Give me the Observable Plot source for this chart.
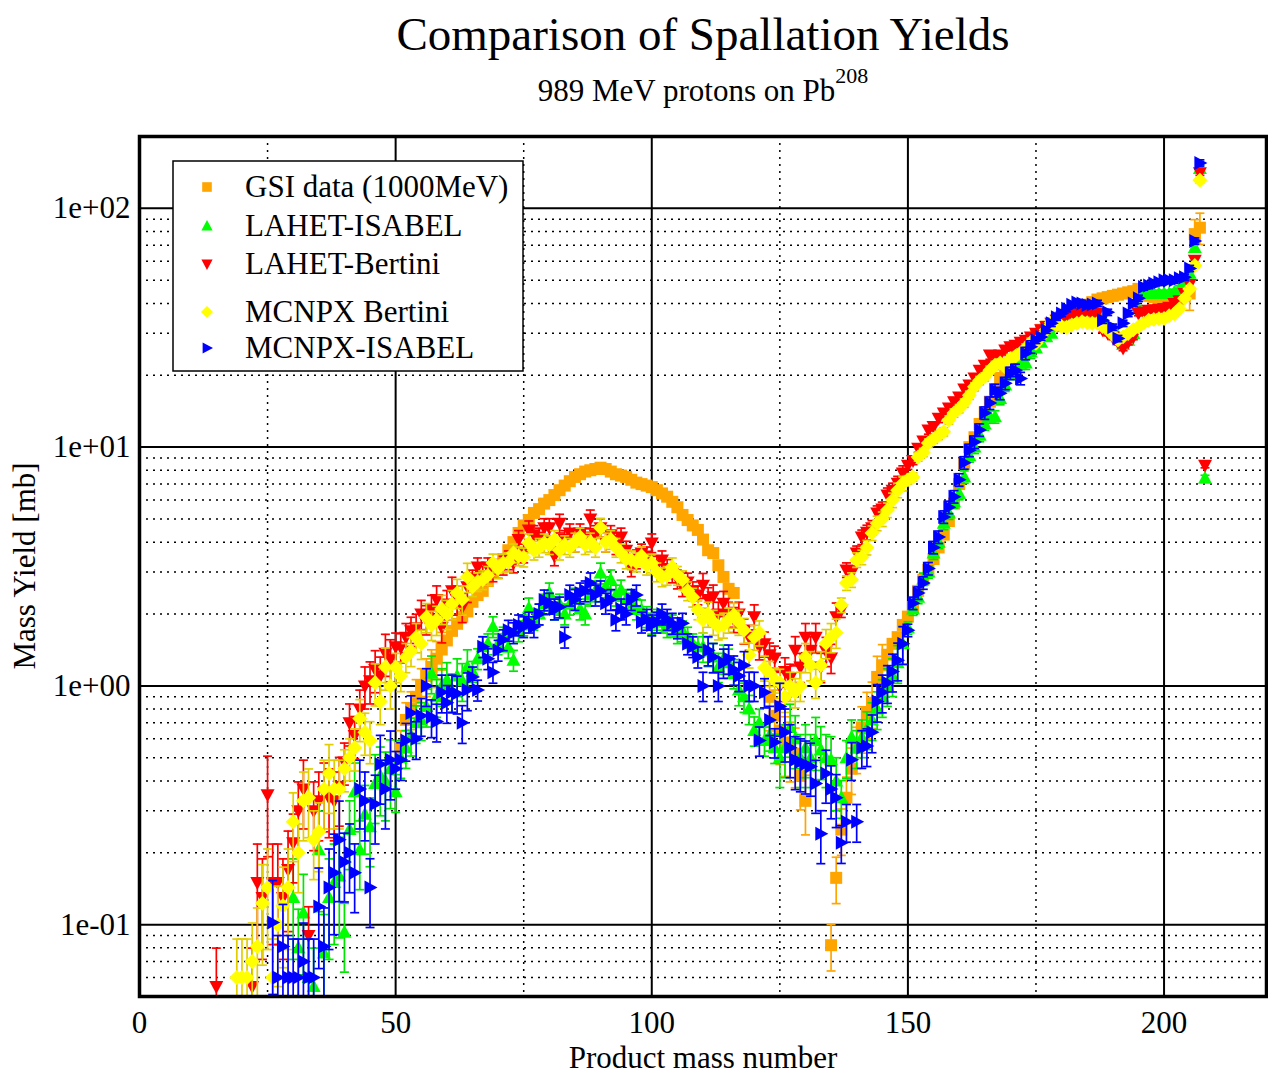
<!DOCTYPE html>
<html><head><meta charset="utf-8">
<script src="https://cdn.jsdelivr.net/npm/d3@7"></script>
<script src="https://cdn.jsdelivr.net/npm/@observablehq/plot@0.6"></script>
<style>body{margin:0;background:#fff}svg{display:block}</style>
</head><body><div id="chart"></div>
<script>
// ---------- axis ticks ----------
const decades = [0.1, 1, 10, 100];
const yTickLabels = ["1e-01", "1e+00", "1e+01", "1e+02"];
const xTicks = [0, 50, 100, 150, 200];
const majorX = [50, 100, 150, 200];
const minorX = [25, 75, 125, 175];
const minorMult = [2, 3, 4, 5, 6, 7, 8, 9];
const minorBase = [0.01, 0.1, 1, 10, 100];

// ---------- series names & colours ----------
const seriesNames = ["GSI data (1000MeV)", "LAHET-ISABEL", "LAHET-Bertini", "MCNPX Bertini", "MCNPX-ISABEL"];
const seriesColors = ["#ffa500", "#00ff00", "#ff0000", "#ffff00", "#0000ff"];
const barColors = ["#ffa500", "#00e600", "#ff0000", "#e2ce00", "#0000ff"];

// ---------- GSI data (orange squares), three segments ----------
const gsiFissionStart = 51;
const gsiFission = [0.55,0.72,0.80,0.90,1.00,1.10,1.20,1.30,1.42,1.55,
  1.70,1.82,1.95,2.05,2.25,2.40,2.50,2.75,2.97,3.20,
  3.40,3.70,4.00,4.37,4.70,4.95,5.30,5.50,5.80,6.00,
  6.30,6.60,6.90,7.20,7.50,7.70,7.90,8.00,8.10,8.20,
  8.10,7.90,7.70,7.60,7.50,7.30,7.10,7.00,6.90,6.80,
  6.60,6.40,6.20,5.90,5.60,5.20,4.95,4.70,4.50,4.10,
  3.70,3.60,3.20,2.86,2.55,2.45];
const gsiDipStart = 123;
const gsiDip = [0.90,0.75,0.65,0.58,0.55,0.52,0.42,0.33];
const gsiResidueStart = 135;
const gsiResidue = [0.082,0.157,0.25,0.34,0.45,0.55,0.67,0.77,0.85,1.09,
  1.22,1.35,1.50,1.60,1.80,1.95,2.14,2.50,2.78,3.06,
  3.40,3.80,4.30,4.90,5.80,7.00,8.50,10.0,11.0,12.5,
  14.0,15.5,17.5,19.5,21.0,22.0,23.5,25.0,26.5,28.0,
  29.5,31.0,32.0,33.0,34.0,35.0,36.0,37.0,37.8,38.5,
  39.5,40.5,41.5,42.0,42.5,43.0,43.5,44.0,44.5,45.0,
  46.0,44.0,43.0,42.5,42.0,42.0,42.0,42.0,42.0,43.0,
  44.0,78.0,83.0];

// ---------- LAHET-ISABEL (green) ----------
const lahetIsabelStart = 30;
const lahetIsabel = [0.13,0.08,0.112,0.06,0.055,0.206,0.076,0.13,0.15,0.16,
  0.093,0.25,0.36,0.206,0.29,0.257,0.39,0.42,0.40,0.45,
  0.36,0.50,0.55,0.62,0.70,0.72,0.82,1.13,0.90,1.00,
  1.06,0.95,1.10,1.05,1.20,1.15,1.30,1.46,1.50,1.77,
  1.50,1.60,1.45,1.28,1.70,1.80,2.12,1.90,2.00,2.20,
  2.45,2.10,2.20,2.00,2.20,2.33,2.10,2.00,2.40,2.50,
  2.97,2.60,2.78,2.40,2.52,2.30,2.22,2.10,2.08,1.95,
  1.83,1.90,1.85,1.77,1.80,1.67,1.70,1.60,1.50,1.46,
  1.46,1.40,1.32,1.20,1.30,1.25,1.13,0.96,0.90,0.80,
  0.65,0.70,0.59,0.62,0.55,0.50,0.55,0.67,0.60,0.50,
  0.55,0.50,0.59,0.54,0.50,0.49,0.40,0.34,0.50,0.61,
  0.55,0.61,0.66,0.72,0.80,0.90,1.00,1.10,1.25,1.50,
  1.75,2.10,2.35,2.80,3.00,3.60,4.00,4.80,5.30,5.90,
  6.40,7.50,9.20,10.0,11.2,12.5,13.4,13.4,16.0,18.2,
  20.4,21.5,22.5,22.5,25.0,26.0,27.5,29.0,30.0,32.0,
  34.0,36.3,36.5,37.0,37.2,37.3,36.5,35.0,33.5,32.0,
  30.9,29.0,27.0,28.0,29.9,38.0,44.0,44.0,44.0,44.0,
  44.0,44.0,44.5,46.0,48.5,53.5,68.5,147,7.4];

// ---------- LAHET-Bertini (red) ----------
const lahetBertiniStart = 15;
const lahetBertini = [0.055,null,null,null,null,null,null,
  0.055,0.15,0.13,0.35,0.15,0.15,0.13,0.17,
  0.22,0.30,0.37,0.09,0.30,0.33,0.36,0.34,0.33,0.38,
  0.48,0.70,0.62,0.80,1.00,1.05,1.17,1.10,1.37,1.30,
  1.46,1.45,1.60,1.70,1.75,2.00,1.90,2.10,2.30,1.76,
  2.20,2.50,2.30,2.14,2.60,2.80,3.15,2.90,3.15,3.00,
  3.10,3.20,3.37,3.27,4.10,3.60,4.50,4.30,4.20,4.60,
  4.60,3.50,4.80,4.10,4.37,4.00,4.37,4.20,5.00,4.30,
  4.60,4.00,4.30,3.90,4.20,3.70,3.15,3.40,3.60,3.50,
  3.97,3.20,3.37,3.10,2.97,2.80,2.60,2.72,2.50,2.40,
  2.64,2.30,2.36,2.00,2.22,2.00,1.90,2.00,1.70,1.60,
  1.95,1.46,1.50,1.35,1.31,1.00,1.15,1.08,1.41,1.20,
  1.60,1.41,1.60,1.20,1.40,1.31,1.95,2.08,3.06,2.97,
  3.60,4.20,4.40,4.60,5.30,5.50,6.30,6.60,7.05,7.80,
  8.40,8.80,9.90,10.6,11.8,12.2,13.2,13.9,14.6,15.5,
  16.2,17.5,18.2,19.5,21.0,22.0,24.3,24.0,24.3,25.5,
  26.3,26.7,27.5,28.0,28.9,30.0,31.0,32.0,33.0,34.0,
  35.0,35.7,36.0,36.2,36.5,36.7,36.5,36.4,31.0,30.0,
  28.9,27.5,26.0,27.5,28.9,36.4,36.8,37.4,37.6,37.8,
  38.1,38.5,40.0,41.0,44.0,48.0,60.6,141,8.4];

// ---------- MCNPX Bertini (yellow) ----------
const mcnpxBertiniStart = 19;
const mcnpxBertini = [0.06,0.06,0.06,0.07,0.081,0.123,0.143,0.06,0.10,0.12,
  0.143,0.27,0.20,0.33,0.34,0.227,0.245,0.37,0.43,0.37,
  0.37,0.45,0.50,0.55,0.73,0.64,0.59,1.03,0.86,1.20,
  1.00,1.20,1.10,1.32,1.40,1.60,1.50,1.94,1.80,1.89,
  2.10,2.00,2.20,2.45,2.30,2.86,2.60,2.73,2.78,2.90,
  3.27,3.10,3.27,3.30,3.60,3.50,3.46,3.97,3.70,3.80,
  3.97,3.90,4.10,3.70,3.90,3.80,4.00,4.20,3.90,4.00,
  3.80,4.60,4.00,4.10,3.80,3.60,3.40,3.37,3.30,3.50,
  3.20,3.27,3.00,2.86,2.90,3.15,2.90,2.78,2.50,2.35,
  2.08,1.89,2.00,1.85,1.77,1.80,1.89,1.98,1.85,1.71,
  1.35,1.60,1.67,1.19,1.13,1.06,1.03,0.90,1.00,0.94,
  1.00,1.32,1.22,1.03,1.22,1.51,1.60,1.67,2.18,2.70,
  2.78,3.37,3.46,3.80,4.37,4.80,5.00,5.45,6.00,6.60,
  7.05,7.30,7.50,9.10,9.50,10.4,10.8,11.2,11.6,13.0,
  13.9,14.5,15.3,16.5,17.9,19.0,19.7,21.0,22.0,22.5,
  21.6,23.5,24.0,24.8,26.0,27.5,27.2,29.0,31.0,33.2,
  32.5,32.0,31.8,32.5,33.0,33.5,33.2,33.0,33.0,32.0,
  31.0,29.5,28.1,29.0,29.9,31.0,31.9,33.0,34.0,34.2,
  34.5,34.6,35.5,36.2,38.0,42.0,46.0,57.6,131];

// ---------- MCNPX-ISABEL (blue) ----------
const mcnpxIsabelStart = 26;
const mcnpxIsabel = [0.102,0.06,0.081,0.06,0.06,0.06,0.07,0.06,0.06,0.119,
  0.081,0.143,0.165,0.227,0.183,0.20,0.165,0.37,0.33,0.143,
  0.32,0.47,0.37,0.49,0.45,0.49,0.59,0.77,0.60,0.75,
  1.00,0.74,0.71,0.94,0.85,0.94,0.93,0.70,0.96,1.09,
  0.96,1.46,1.30,1.14,1.41,1.56,1.71,1.67,1.80,1.77,
  1.85,1.77,2.00,2.29,2.22,2.10,2.14,1.60,2.40,2.30,
  2.45,2.50,2.70,2.40,2.50,2.22,2.30,1.89,2.10,2.00,
  2.30,2.40,1.85,1.90,1.80,1.85,2.00,1.90,1.83,1.75,
  1.83,1.50,1.46,1.32,1.00,1.41,1.32,1.00,1.25,1.30,
  1.17,1.10,1.22,1.00,1.00,0.59,0.94,0.72,0.58,0.82,
  0.64,0.55,0.49,0.48,0.47,0.46,0.39,0.24,0.43,0.37,
  0.34,0.22,0.27,0.49,0.27,0.55,0.56,0.64,0.86,0.94,
  1.03,1.15,1.28,1.50,1.71,2.22,2.45,2.70,3.10,3.80,
  4.20,5.10,5.60,6.20,7.30,8.60,9.70,10.5,11.8,13.9,
  15.3,17.3,16.8,18.5,20.4,21.0,19.4,24.7,26.3,28.0,
  28.9,30.9,33.0,35.0,36.3,38.0,39.5,40.3,40.0,39.4,
  39.6,40.0,34.0,36.7,31.8,28.5,33.0,36.3,40.0,42.0,
  46.8,47.5,48.5,49.0,50.0,50.0,50.0,51.0,51.5,56.0,
  73.0,155];

// ---------- error bar half-widths (percent), by mass-number band ----------
const simErrEdges = [30, 40, 50, 65, 110, 125, 137, 150, 175, 210];
const bertiniErrPct = [45, 32, 20, 14, 9, 12, 14, 7, 4, 2.5];
const isabelErrPct = [50, 45, 32, 18, 10, 14, 25, 18, 6, 3];
const gsiErrEdges = [60, 117, 131, 146, 205, 210];
const gsiErrPct = [18, 3, 28, 22, 3, 15];

// ---------- helpers ----------
function band(A, edges) { const i = edges.findIndex(e => A < e); return i < 0 ? edges.length - 1 : i; }
function rows(start, values, edges, pct) {
  return values.map((v, i) => ({A: start + i, y: v}))
    .filter(d => d.y != null)
    .map(d => { const p = pct[band(d.A, edges)] / 100; return {...d, lo: d.y * (1 - p), hi: d.y * (1 + p)}; });
}

const symSquare = {draw(c) { c.moveTo(-6, -6); c.lineTo(6, -6); c.lineTo(6, 6); c.lineTo(-6, 6); c.closePath(); }};
const symUp = {draw(c) { c.moveTo(0, -7.5); c.lineTo(7, 5.5); c.lineTo(-7, 5.5); c.closePath(); }};
const symDown = {draw(c) { c.moveTo(0, 7.5); c.lineTo(7, -5.5); c.lineTo(-7, -5.5); c.closePath(); }};
const symRight = {draw(c) { c.moveTo(7.5, 0); c.lineTo(-5.5, -7); c.lineTo(-5.5, 7); c.closePath(); }};
const symDiamond = {draw(c) { c.moveTo(0, -7.5); c.lineTo(7.5, 0); c.lineTo(0, 7.5); c.lineTo(-7.5, 0); c.closePath(); }};
const symCap = {draw(c) { c.moveTo(-4.5, 0); c.lineTo(4.5, 0); }};

const gsiRows = [
  ...rows(gsiFissionStart, gsiFission, gsiErrEdges, gsiErrPct),
  ...rows(gsiDipStart, gsiDip, gsiErrEdges, gsiErrPct),
  ...rows(gsiResidueStart, gsiResidue, gsiErrEdges, gsiErrPct)
];

const series = [
  {rows: gsiRows, sym: symSquare},
  {rows: rows(lahetIsabelStart, lahetIsabel, simErrEdges, isabelErrPct), sym: symUp},
  {rows: rows(lahetBertiniStart, lahetBertini, simErrEdges, bertiniErrPct), sym: symDown},
  {rows: rows(mcnpxBertiniStart, mcnpxBertini, simErrEdges, bertiniErrPct), sym: symDiamond},
  {rows: rows(mcnpxIsabelStart, mcnpxIsabel, simErrEdges, isabelErrPct), sym: symRight}
];

const minorY = minorBase.flatMap(b => minorMult.map(m => +(b * m).toPrecision(3))).filter(v => v > 0.05 && v < 200);

const dataMarks = series.flatMap((s, k) => [
  Plot.ruleX(s.rows, {x: "A", y1: "lo", y2: "hi", stroke: barColors[k], strokeWidth: 1.7, clip: true}),
  Plot.dot(s.rows, {x: "A", y: "lo", symbol: symCap, fill: "none", stroke: barColors[k], strokeWidth: 1.7, clip: true}),
  Plot.dot(s.rows, {x: "A", y: "hi", symbol: symCap, fill: "none", stroke: barColors[k], strokeWidth: 1.7, clip: true}),
  Plot.dot(s.rows, {x: "A", y: "y", symbol: s.sym, fill: seriesColors[k], stroke: "none", clip: true})
]);

const plot = Plot.plot({
  width: 1268,
  height: 1076,
  marginTop: 136,
  marginBottom: 80,
  marginLeft: 139,
  marginRight: 2,
  style: {fontFamily: "'Liberation Serif', 'Times New Roman', serif", fontSize: "31px", background: "#fff", color: "#000"},
  x: {domain: [0, 220], ticks: xTicks, tickSize: 0, tickPadding: 14, label: null},
  y: {type: "log", domain: [0.05, 200], ticks: decades, tickFormat: d => yTickLabels[decades.indexOf(d)], tickSize: 0, tickPadding: 9, label: null},
  marks: [
    Plot.ruleY(minorY, {stroke: "#000", strokeWidth: 1.5, strokeDasharray: "2,5"}),
    Plot.ruleX(minorX, {stroke: "#000", strokeWidth: 1.5, strokeDasharray: "2,5"}),
    Plot.ruleY(decades, {stroke: "#000", strokeWidth: 2}),
    Plot.ruleX(majorX, {stroke: "#000", strokeWidth: 2}),
    ...dataMarks,
    Plot.frame({stroke: "#000", strokeWidth: 3.5})
  ]
});

document.getElementById("chart").appendChild(plot);
const svg = d3.select(plot);

// titles and axis labels
svg.append("text").attr("x", 703).attr("y", 50).attr("text-anchor", "middle")
  .attr("font-size", 47).attr("fill", "#000").text("Comparison of Spallation Yields");
const sub = svg.append("text").attr("x", 703).attr("y", 101).attr("text-anchor", "middle")
  .attr("font-size", 31).attr("fill", "#000");
sub.append("tspan").text("989 MeV protons on Pb");
sub.append("tspan").attr("font-size", 22).attr("dy", -18).text("208");
svg.append("text").attr("x", 703).attr("y", 1068).attr("text-anchor", "middle")
  .attr("font-size", 31).attr("fill", "#000").text("Product mass number");
svg.append("text").attr("transform", "translate(35,566) rotate(-90)").attr("text-anchor", "middle")
  .attr("font-size", 31).attr("fill", "#000").text("Mass Yield [mb]");

// legend
const legendRowsY = [187, 226, 264, 312, 348];
const legendSyms = [symSquare, symUp, symDown, symDiamond, symRight];
const lg = svg.append("g");
lg.append("rect").attr("x", 173).attr("y", 161).attr("width", 350).attr("height", 210)
  .attr("fill", "#fff").attr("stroke", "#000").attr("stroke-width", 1.5);
seriesNames.forEach((name, i) => {
  lg.append("path").attr("d", d3.symbol(legendSyms[i])()).attr("transform", `translate(207,${legendRowsY[i]}) scale(0.8)`)
    .attr("fill", seriesColors[i]);
  lg.append("text").attr("x", 245).attr("y", legendRowsY[i] + 10).attr("text-anchor", "start")
    .attr("font-size", 31).attr("fill", "#000").text(name);
});
</script></body></html>
